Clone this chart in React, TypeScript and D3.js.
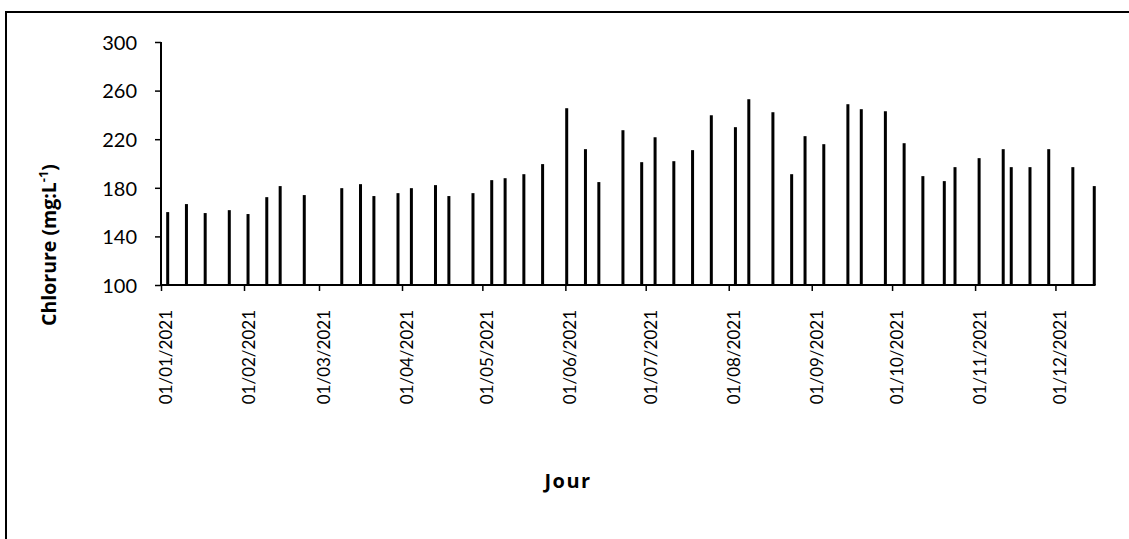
import { useEffect, useRef } from 'react';
import * as d3 from 'd3';

// sampling dates and chloride values (mg/L)
const dates = [
  '2021-01-03', '2021-01-10', '2021-01-17', '2021-01-26', '2021-02-02', '2021-02-09', '2021-02-14',
  '2021-02-23', '2021-03-09', '2021-03-16', '2021-03-21', '2021-03-30', '2021-04-04', '2021-04-13',
  '2021-04-18', '2021-04-27', '2021-05-04', '2021-05-09', '2021-05-16', '2021-05-23', '2021-06-01',
  '2021-06-08', '2021-06-13', '2021-06-22', '2021-06-29', '2021-07-04', '2021-07-11', '2021-07-18',
  '2021-07-25', '2021-08-03', '2021-08-08', '2021-08-17', '2021-08-24', '2021-08-29', '2021-09-05',
  '2021-09-14', '2021-09-19', '2021-09-28', '2021-10-05', '2021-10-12', '2021-10-20', '2021-10-24',
  '2021-11-02', '2021-11-11', '2021-11-14', '2021-11-21', '2021-11-28', '2021-12-07', '2021-12-15',
];
const chlorure = [
  160.0, 166.6, 159.2, 161.6, 158.4, 172.3, 181.4,
  174.0, 179.7, 183.0, 173.2, 175.6, 179.7, 182.2,
  173.2, 175.6, 186.3, 187.9, 191.2, 199.5, 245.5,
  211.8, 184.7, 227.4, 201.1, 221.6, 201.9, 211.0,
  239.7, 229.9, 252.9, 242.2, 191.2, 222.5, 215.9,
  248.8, 244.7, 243.0, 216.7, 189.6, 185.5, 197.0,
  204.4, 211.8, 197.0, 197.0, 211.8, 197.0, 181.4,
];
const yTicks = [100, 140, 180, 220, 260, 300];
const axisStart = '2021-01-01';
const axisEnd = '2021-12-16';

const W = 1129;
const H = 539;
const FONT = 'Lato, "Open Sans", sans-serif';
const TITLE_FONT = '"Open Sans", sans-serif';

const App = () => {
  const svgRef = useRef<SVGSVGElement>(null);

  useEffect(() => {
    const svg = d3.select(svgRef.current);
    svg.selectAll('*').remove();

    const parse = d3.utcParse('%Y-%m-%d');
    const data = dates.map((d, i) => ({ date: parse(d) as Date, value: chlorure[i] }));

    const left = 161, right = 1095.6, top = 42, bottom = 285;

    const x = d3.scaleUtc()
      .domain([parse(axisStart) as Date, parse(axisEnd) as Date])
      .range([left, right]);
    const y = d3.scaleLinear().domain([100, 300]).range([bottom, top]);

    // outer chart frame (cut off at right/bottom)
    svg.append('rect')
      .attr('x', 6).attr('y', 12)
      .attr('width', W + 20).attr('height', H + 20)
      .attr('fill', 'white').attr('stroke', '#000').attr('stroke-width', 2);

    // bars, centred in each day slot
    const halfDay = 12 * 3600 * 1000;
    svg.append('g')
      .selectAll('rect')
      .data(data)
      .enter()
      .append('rect')
      .attr('x', d => x(new Date(d.date.getTime() + halfDay)) - 1.5)
      .attr('y', d => y(d.value))
      .attr('width', 3)
      .attr('height', d => bottom - y(d.value))
      .attr('fill', '#000');

    // y axis
    const yAxis = svg.append('g')
      .attr('transform', `translate(${left},0)`)
      .call(d3.axisLeft(y).tickValues(yTicks).tickSize(6).tickPadding(18).tickFormat(d3.format('d')));
    yAxis.select('.domain').attr('stroke-width', 2).attr('d', `M0,${top}V${bottom}`);
    yAxis.selectAll('.tick line').attr('stroke-width', 1.5);
    yAxis.selectAll('.tick text')
      .attr('font-family', FONT)
      .attr('font-size', 20)
      .attr('fill', '#000')
      .attr('dy', '0.36em');

    // x axis
    const xAxis = svg.append('g')
      .attr('transform', `translate(0,${bottom})`)
      .call(d3.axisBottom(x).ticks(d3.utcMonth.every(1)).tickSize(6).tickFormat(d => d3.utcFormat('%d/%m/%Y')(d as Date)));
    xAxis.select('.domain').attr('stroke-width', 2).attr('d', `M${left},0H${right}`);
    xAxis.selectAll('.tick line').attr('stroke-width', 1.5);
    xAxis.selectAll('.tick text')
      .attr('font-family', FONT)
      .attr('font-size', 17)
      .attr('fill', '#000')
      .attr('text-anchor', 'end')
      .attr('transform', 'rotate(-90)')
      .attr('x', -25)
      .attr('y', 0)
      .attr('dy', '0.62em');

    // axis titles
    const yTitle = svg.append('text')
      .attr('transform', 'translate(56,245) rotate(-90)')
      .attr('text-anchor', 'middle')
      .attr('font-family', TITLE_FONT)
      .attr('font-weight', 'bold')
      .attr('font-size', 19.5)
      .attr('fill', '#000');
    yTitle.append('tspan').text('Chlorure (mg:L');
    yTitle.append('tspan').attr('dy', -8).attr('font-size', 13).text('-1');
    yTitle.append('tspan').attr('dy', 8).text(')');

    svg.append('text')
      .attr('x', 568).attr('y', 488)
      .attr('text-anchor', 'middle')
      .attr('font-family', TITLE_FONT)
      .attr('font-weight', 'bold')
      .attr('font-size', 20)
      .attr('letter-spacing', 1.5)
      .attr('fill', '#000')
      .text('Jour');
  }, []);

  return (
    <div style={{ position: 'absolute', left: 0, top: 0, width: W, height: H, overflow: 'hidden', background: '#fff' }}>
      <svg ref={svgRef} width={W} height={H} style={{ display: 'block' }}></svg>
    </div>
  );
};

export default App;
